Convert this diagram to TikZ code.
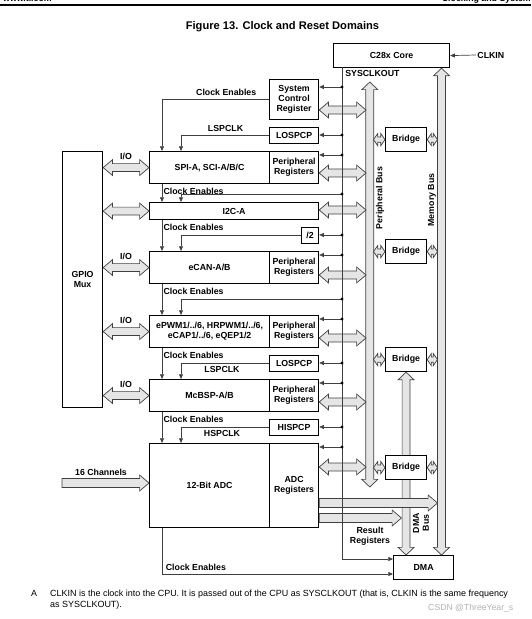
\documentclass[tikz,border=0pt]{standalone}
\usepackage{fontspec}
\setmainfont{Liberation Sans}
\usetikzlibrary{arrows.meta,calc}

\newcommand{\lbl}{\fontsize{7.5}{8.5}\selectfont\bfseries}
% fat bus arrows: #1 start, #2 end, #3 head length, #4 body half width, #5 head half width
\newcommand{\busH}[5]{%
  \draw[bus] let \p1=#1, \p2=#2 in
    (\x1,\y1) -- (\x1+#3,\y1+#5) -- (\x1+#3,\y1+#4) -- (\x2-#3,\y1+#4)
    -- (\x2-#3,\y1+#5) -- (\x2,\y1) -- (\x2-#3,\y1-#5) -- (\x2-#3,\y1-#4)
    -- (\x1+#3,\y1-#4) -- (\x1+#3,\y1-#5) -- cycle;}
\newcommand{\busV}[5]{%
  \draw[bus] let \p1=#1, \p2=#2 in
    (\x1,\y1) -- (\x1+#5,\y1-#3) -- (\x1+#4,\y1-#3) -- (\x1+#4,\y2+#3)
    -- (\x1+#5,\y2+#3) -- (\x1,\y2) -- (\x1-#5,\y2+#3) -- (\x1-#4,\y2+#3)
    -- (\x1-#4,\y1-#3) -- (\x1-#5,\y1-#3) -- cycle;}
\newcommand{\busR}[5]{%
  \draw[bus] let \p1=#1, \p2=#2 in
    (\x1,\y1+#4) -- (\x2-#3,\y1+#4) -- (\x2-#3,\y1+#5) -- (\x2,\y1)
    -- (\x2-#3,\y1-#5) -- (\x2-#3,\y1-#4) -- (\x1,\y1-#4) -- cycle;}
\newcommand{\hbus}[2]{\busH{#1}{#2}{8pt}{3.4pt}{6.8pt}}
\newcommand{\vbus}[2]{\busV{#1}{#2}{6.5pt}{3.4pt}{6.8pt}}
\newcommand{\rbus}[2]{\busR{#1}{#2}{8pt}{3.8pt}{6.8pt}}
\newcommand{\bbus}[2]{\busH{#1}{#2}{3.6pt}{2.2pt}{5.2pt}}

\begin{document}
\begin{tikzpicture}[x=0.03cm,y=-0.03cm,>={Triangle[length=4pt,width=3.4pt]},
  blk/.style={draw,line width=1pt,fill=white,anchor=north west,inner sep=1pt,align=center,font=\lbl},
  unit/.style={blk,minimum width=3.6cm,minimum height=0.96cm},
  regs/.style={blk,minimum width=1.47cm,minimum height=0.96cm},
  ctlbox/.style={blk,minimum width=1.47cm,minimum height=0.48cm},
  bridge/.style={blk,minimum width=1.23cm,minimum height=0.72cm},
  clk/.style={draw=black!75,line width=0.6pt},
  bus/.style={draw=black!75,fill=black!10,line width=0.6pt},
  lab/.style={font=\lbl,inner sep=1pt,align=center},
  tapdot/.style={circle,fill=black,inner sep=0pt,minimum size=2.8pt}]
  \useasboundingbox (0,0) rectangle (531,619);

  % page header and title
  \draw[line width=1.4pt] (0,4.7) -- (531,4.7);
  \node[anchor=base west,inner sep=0,font=\fontsize{7.5}{9}\selectfont\bfseries] (hdl) at (3,1.7) {www.ti.com};
  \node[anchor=base east,inner sep=0,font=\fontsize{7.5}{9}\selectfont\bfseries] (hdr) at (531,1.7) {Clocking and System};
  \node[font=\fontsize{9.5}{11}\selectfont\bfseries] (title) at (282.5,27) {Figure 13. Clock and Reset Domains};

  % blocks
  \node[blk,minimum width=3.48cm,minimum height=0.72cm] (core) at (333,43) {C28x Core};
  \node[lab,anchor=west] (clkin) at (476,55) {CLKIN};
  \node[blk,minimum width=1.47cm,minimum height=1.2cm] (sysctl) at (269,79) {System\\Control\\Register};
  \node[ctlbox] (lospA) at (269,127) {LOSPCP};
  \node[unit] (spi) at (149,151) {SPI-A, SCI-A/B/C};
  \node[regs] (spiR) at (269,151) {Peripheral\\Registers};
  \node[blk,minimum width=5.07cm,minimum height=0.51cm] (i2c) at (149,202) {I2C-A};
  \node[blk,minimum width=0.51cm,minimum height=0.48cm,inner sep=0pt] (half) at (301,227) {/2};
  \node[unit] (ecan) at (149,251) {eCAN-A/B};
  \node[regs] (ecanR) at (269,251) {Peripheral\\Registers};
  \node[unit] (epwm) at (149,315) {ePWM1/../6, HRPWM1/../6,\\eCAP1/../6, eQEP1/2};
  \node[regs] (epwmR) at (269,315) {Peripheral\\Registers};
  \node[ctlbox] (lospB) at (269,355) {LOSPCP};
  \node[unit] (mcbsp) at (149,379) {McBSP-A/B};
  \node[regs] (mcbspR) at (269,379) {Peripheral\\Registers};
  \node[ctlbox] (hisp) at (269,419) {HISPCP};
  \node[unit,minimum height=2.52cm] (adc) at (149,443) {12-Bit ADC};
  \node[regs,minimum height=2.52cm] (adcR) at (269,443) {ADC\\Registers};
  \node[blk,minimum width=1.2cm,minimum height=7.68cm] (gpio) at (62,151) {GPIO\\Mux};
  \node[bridge] (brA) at (385,127) {Bridge};
  \node[bridge] (brB) at (385,239) {Bridge};
  \node[bridge] (brC) at (385,347) {Bridge};
  \node[blk,minimum width=1.8cm,minimum height=0.72cm] (dma) at (393,555) {DMA};

  \coordinate (ceX) at (162,0);
  \coordinate (ckX) at (181,0);
  \coordinate (pbW) at (366,0);
  \coordinate (pbE) at (373.5,0);
  \coordinate (mbX) at (441.5,0);
  \coordinate (mbW) at (437.5,0);
  \coordinate (dbW) at (401.5,0);
  \coordinate (sck) at (342,67);
  \coordinate (chIn) at (62,483);

  % buses
  \vbus{(369.8,82)}{(369.8,487)}
  \vbus{(core.south -| mbX)}{(dma.north -| mbX)}
  \vbus{(brC.south)}{(dma.north -| brC.south)}
  \node[bridge] (brD) at (385,455) {Bridge};

  \foreach \nm/\yy in {sysctl/110,spiR/173,i2c/210,ecanR/275,epwmR/338,mcbspR/402,adcR/467}
    \hbus{(\nm.east |- 0,\yy)}{(pbW |- 0,\yy)};
  \foreach \nm in {spi,i2c,ecan,epwm,mcbsp}
    \hbus{(gpio.east |- \nm.west)}{(\nm.west)};
  \foreach \nm in {brA,brB,brC,brD}{
    \bbus{(pbE |- \nm.west)}{(\nm.west)}
    \bbus{(\nm.east)}{(mbW |- \nm.east)}
  }
  \rbus{(adcR.east |- 0,503)}{(mbW |- 0,503)}
  \rbus{(adcR.east |- 0,518)}{(dbW |- 0,518)}
  \rbus{(chIn)}{(adc.west |- chIn)}

  % clocks
  \draw[clk,->] (clkin.west) -- (core.east);
  \draw[clk,->] (sck) node[lab,below right=1.5pt] (sckl) {SYSCLKOUT} |- (dma.west |- 0,559);
  \foreach \nm/\yy in {sysctl/87,lospA/135,spiR/155,half/235,ecanR/255,epwmR/319,lospB/363,mcbspR/383,hisp/427,adcR/447}{
    \draw[clk,->] (sck |- 0,\yy) -- (\nm.east |- 0,\yy);
    \node[tapdot] (tap\nm) at (sck |- 0,\yy) {};
  }
  \draw[clk,->] (sck |- 0,194) node[tapdot] (tapi2c) {} -| (i2c.north -| ckX);
  \draw[clk,->] (sck |- 0,299) node[tapdot] (tapepwm) {} -| (epwm.north -| ckX);

  \draw[clk,->] (sysctl.west) -| (spi.north -| ceX) node[lab,pos=0.2,above=2.4pt] (ce1) {Clock Enables};
  \draw[clk,->] (lospA.west) -| (spi.north -| ckX) node[lab,pos=0.247,above=2.4pt] (ls1) {LSPCLK};
  \draw[clk,->] (half.west) -| (ecan.north -| ckX);
  \draw[clk,->] (lospB.west) -| (mcbsp.north -| ckX) node[lab,pos=0.267,below=0.8pt] (ls2) {LSPCLK};
  \draw[clk,->] (hisp.west) -| (adc.north -| ckX) node[lab,pos=0.267,below=0.8pt] (hs1) {HSPCLK};

  \draw[clk,->] (spi.south -| ceX) node[lab,below right,yshift=-2pt] (ce2) {Clock Enables} -- (i2c.north -| ceX);
  \draw[clk,->] (i2c.south -| ceX) node[lab,below right,yshift=-2pt] (ce3) {Clock Enables} -- (ecan.north -| ceX);
  \draw[clk,->] (ecan.south -| ceX) node[lab,below right,yshift=-2pt] (ce4) {Clock Enables} -- (epwm.north -| ceX);
  \draw[clk,->] (epwm.south -| ceX) node[lab,below right,yshift=-2pt] (ce5) {Clock Enables} -- (mcbsp.north -| ceX);
  \draw[clk,->] (mcbsp.south -| ceX) node[lab,below right,yshift=-2pt] (ce6) {Clock Enables} -- (adc.north -| ceX);
  \draw[clk,->] (adc.south -| ceX) |- (dma.west |- 0,574) node[lab,pos=0.5,above right=2pt] (ce7) {Clock Enables};

  % labels
  \foreach \nm in {spi,ecan,epwm,mcbsp}
    \node[lab,above=5.6pt] (io\nm) at ($(gpio.east |- \nm.west)!0.5!(\nm.west)$) {I/O};
  \node[lab] (chl) at (101,472) {16 Channels};
  \node[lab,rotate=90] (pbl) at (380,198) {Peripheral Bus};
  \node[lab,rotate=90] (mbl) at (432,200) {Memory Bus};
  \node[lab,rotate=90] (dbl) at (421,523) {DMA\\Bus};
  \node[lab] (resl) at (370,536) {Result\\Registers};

  % note
  \node[anchor=base west,inner sep=0,font=\fontsize{7.65}{9.8}\selectfont] (fnA) at (31,596) {A};
  \node[anchor=base west,inner sep=0,align=left,font=\fontsize{7.65}{9.8}\selectfont] (fnT) at (50,607.5)
    {CLKIN is the clock into the CPU. It is passed out of the CPU as SYSCLKOUT (that is, CLKIN is the same frequency\\as SYSCLKOUT).};
  \node[anchor=west,inner sep=0,text=black!30,font=\fontsize{7.4}{9}\selectfont] (wm) at (428,608) {CSDN @ThreeYear\_s};
\end{tikzpicture}
\end{document}
